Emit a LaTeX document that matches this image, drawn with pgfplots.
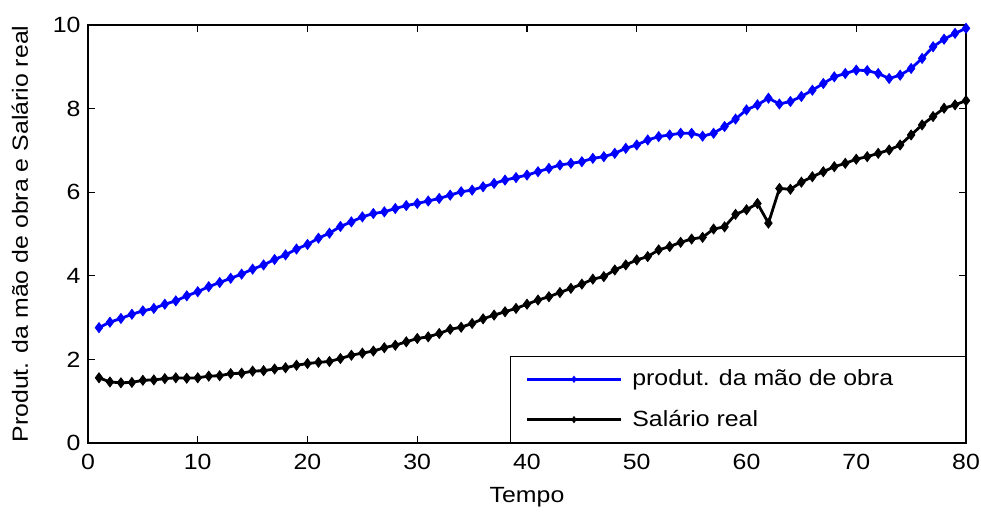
\documentclass[border=0pt]{standalone}
\usepackage{fontspec}
\setmainfont{Liberation Sans}[FakeStretch=1.13]
\usepackage{pgfplots}
\pgfplotsset{compat=1.18}
\begin{document}
\fontsize{22}{26}\selectfont
\begin{tikzpicture}
\begin{axis}[
  scale only axis, width=878pt, height=418pt,
  xmin=0, xmax=80, ymin=0, ymax=10,
  xtick={0,10,...,80}, ytick={0,2,...,10},
  tick align=inside, major tick length=7pt,
  axis line style={line width=1.2pt},
  every tick/.style={black, line width=1.2pt},
  /pgf/number format/assume math mode=true,
  ticklabel style={font=\fontsize{22}{26}\selectfont},
  xticklabel style={yshift=-4pt},
  xlabel={Tempo},
  ylabel={Produt. da mão de obra e Salário real},
  xlabel style={at={(axis description cs:0.5,0)}, anchor=center, yshift=-54pt, font=\fontsize{22}{26}\selectfont},
  ylabel style={at={(axis description cs:0,0.5)}, anchor=center, yshift=68pt, font=\fontsize{22}{26}\selectfont},
  legend style={at={(1,0)}, anchor=south east, draw=black, line width=1.2pt,
    inner xsep=15pt, inner ysep=11pt, row sep=17pt, font=\fontsize{22}{26}\selectfont},
  legend cell align=left,
  legend image code/.code={\draw[mark repeat=2,mark phase=2,#1,mark size=3pt] plot coordinates {(0pt,0pt) (47pt,0pt) (94pt,0pt)};},
]
\addplot[color={rgb,255:red,0;green,0;blue,255}, line width=2.8pt, mark=diamond*, mark size=5pt, mark options={line width=0.8pt, solid}] coordinates {
(1,2.76)(2,2.89)(3,2.98)(4,3.08)(5,3.16)(6,3.22)(7,3.32)(8,3.40)(9,3.52)(10,3.62)
(11,3.74)(12,3.84)(13,3.94)(14,4.04)(15,4.16)(16,4.26)(17,4.39)(18,4.50)(19,4.64)(20,4.75)
(21,4.90)(22,5.02)(23,5.18)(24,5.29)(25,5.41)(26,5.49)(27,5.53)(28,5.61)(29,5.68)(30,5.73)
(31,5.79)(32,5.85)(33,5.93)(34,6.01)(35,6.05)(36,6.13)(37,6.21)(38,6.29)(39,6.35)(40,6.41)
(41,6.49)(42,6.57)(43,6.65)(44,6.69)(45,6.73)(46,6.81)(47,6.85)(48,6.93)(49,7.05)(50,7.13)
(51,7.25)(52,7.33)(53,7.37)(54,7.41)(55,7.41)(56,7.34)(57,7.41)(58,7.57)(59,7.75)(60,7.97)
(61,8.09)(62,8.25)(63,8.11)(64,8.17)(65,8.29)(66,8.44)(67,8.60)(68,8.76)(69,8.84)(70,8.92)
(71,8.91)(72,8.84)(73,8.72)(74,8.80)(75,8.96)(76,9.20)(77,9.48)(78,9.66)(79,9.80)(80,9.92)
};
\addlegendentry{\hspace{8pt}\makebox[316pt][l]{produt. da mão de obra}}
\addplot[black, line width=2.8pt, mark=diamond*, mark size=5pt, mark options={line width=0.8pt, solid}] coordinates {
(1,1.56)(2,1.46)(3,1.44)(4,1.45)(5,1.50)(6,1.51)(7,1.54)(8,1.56)(9,1.55)(10,1.56)
(11,1.60)(12,1.61)(13,1.66)(14,1.67)(15,1.72)(16,1.73)(17,1.77)(18,1.80)(19,1.86)(20,1.90)
(21,1.93)(22,1.95)(23,2.02)(24,2.10)(25,2.15)(26,2.20)(27,2.28)(28,2.34)(29,2.42)(30,2.50)
(31,2.54)(32,2.62)(33,2.72)(34,2.77)(35,2.86)(36,2.97)(37,3.06)(38,3.14)(39,3.22)(40,3.32)
(41,3.42)(42,3.50)(43,3.60)(44,3.70)(45,3.80)(46,3.92)(47,3.98)(48,4.14)(49,4.26)(50,4.38)
(51,4.46)(52,4.62)(53,4.70)(54,4.80)(55,4.88)(56,4.92)(57,5.12)(58,5.17)(59,5.47)(60,5.58)
(61,5.73)(62,5.26)(63,6.09)(64,6.07)(65,6.24)(66,6.37)(67,6.49)(68,6.61)(69,6.69)(70,6.79)
(71,6.85)(72,6.93)(73,7.01)(74,7.13)(75,7.37)(76,7.61)(77,7.81)(78,8.01)(79,8.09)(80,8.19)
};
\addlegendentry{\hspace{8pt}Salário real}
\end{axis}
\pgfresetboundingbox
\path ([shift={(-88pt,-68pt)}]current axis.south west) rectangle ([shift={(15pt,25pt)}]current axis.north east);
\end{tikzpicture}
\end{document}
